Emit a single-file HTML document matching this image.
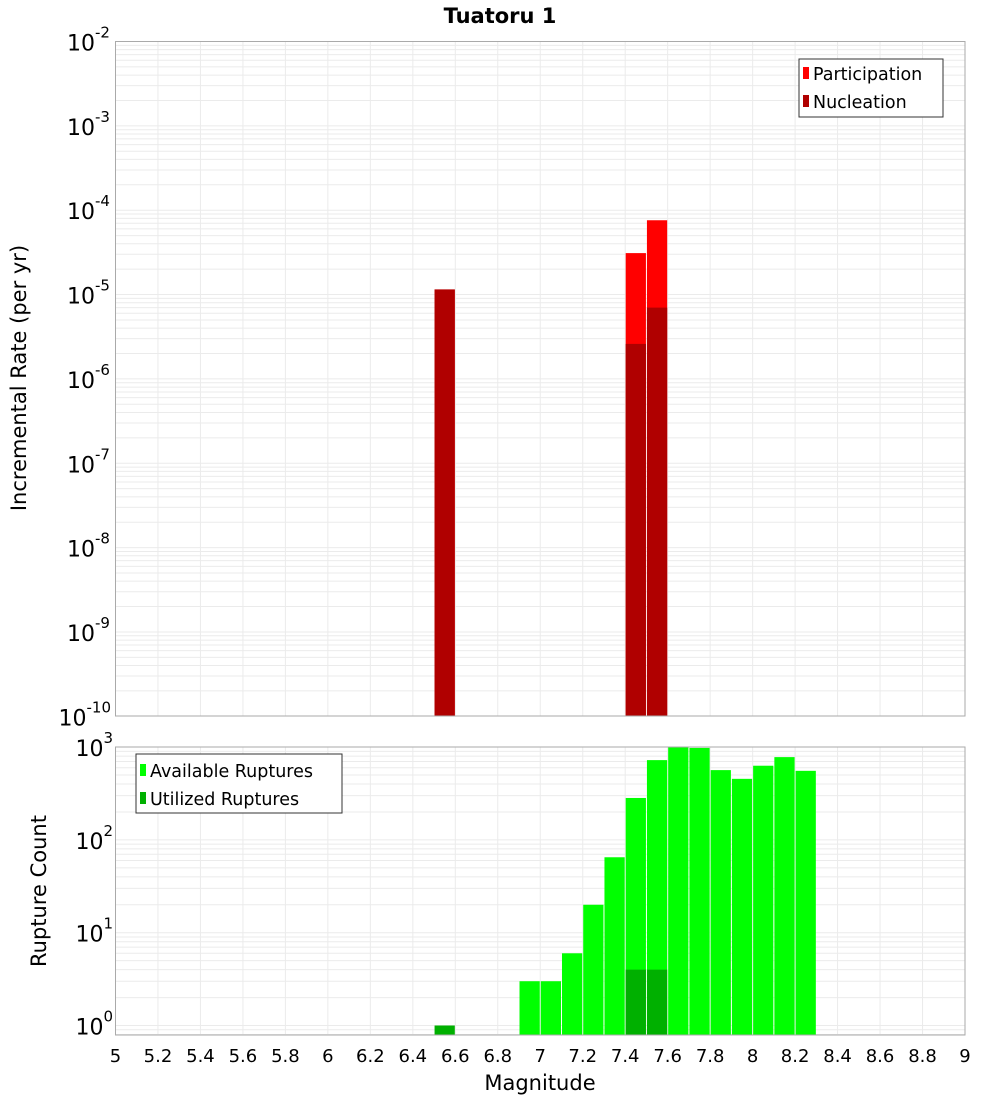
<!DOCTYPE html>
<html><head><meta charset="utf-8"><style>
body{margin:0;background:#fff;}
svg text{font-family:"DejaVu Sans","Liberation Sans",sans-serif;}
</style></head><body>
<svg id="chart" width="1000" height="1100" xmlns="http://www.w3.org/2000/svg">
<text x="500" y="23" text-anchor="middle" font-size="21" font-weight="bold">Tuatoru 1</text>
<g id="topPanel"></g><g id="botPanel"></g>
<text transform="translate(26,378) rotate(-90)" text-anchor="middle" font-size="21">Incremental Rate (per yr)</text>
<text transform="translate(46,891) rotate(-90)" text-anchor="middle" font-size="21">Rupture Count</text>
<text x="540" y="1090" text-anchor="middle" font-size="21">Magnitude</text>
<g id="legends">
<g>
<rect x="799" y="59" width="144" height="58" fill="#fff" stroke="#333"/>
<rect x="803" y="67" width="6" height="12" fill="#ff0000"/>
<text x="813" y="80" font-size="17.5">Participation</text>
<rect x="803" y="95" width="6" height="12" fill="#b00000"/>
<text x="813" y="108" font-size="17.5">Nucleation</text>
</g>
<g>
<rect x="136" y="754" width="206" height="59" fill="#fff" stroke="#333"/>
<rect x="140" y="764" width="6" height="12" fill="#00ff00"/>
<text x="150" y="777" font-size="17.5">Available Ruptures</text>
<rect x="140" y="792" width="6" height="12" fill="#00b000"/>
<text x="150" y="805" font-size="17.5">Utilized Ruptures</text>
</g>
</g>
</svg>
<script>
const mags = [6.5, 7.4, 7.5];
const participation = [1.15e-5, 3.1e-5, 7.6e-5];
const nucleation = [1.15e-5, 2.6e-6, 7.0e-6];
const availMags = [6.9,7.0,7.1,7.2,7.3,7.4,7.5,7.6,7.7,7.8,7.9,8.0,8.1,8.2];
const availCounts = [3,3,6,20,65,283,724,1000,980,565,455,630,780,555];
const utilMags = [6.5,7.4,7.5];
const utilCounts = [1,4,4];
const xTicks = [5,5.2,5.4,5.6,5.8,6,6.2,6.4,6.6,6.8,7,7.2,7.4,7.6,7.8,8,8.2,8.4,8.6,8.8,9];
const topExps = [-2,-3,-4,-5,-6,-7,-8,-9,-10];
const botExps = [0,1,2,3];

const NS="http://www.w3.org/2000/svg";
const X0=115.5,X1=965;
const xs=m=>X0+(m-5)/4*(X1-X0);
const yTop=v=>41.5+(-2-Math.log10(v))*84.35;
const yBot=v=>1025.5-Math.log10(v)*92.8;
function mk(p,t,a){const e=document.createElementNS(NS,t);for(const k in a)e.setAttribute(k,a[k]);p.appendChild(e);return e;}

function panel(g,yT,yB,yf,dmin,dmax,exps,name){
  mk(g,'rect',{x:X0,y:yT,width:X1-X0,height:yB-yT,fill:'#fff'});
  for(let d=dmin;d<dmax;d++)for(let k=1;k<10;k++){const yy=yf(k*Math.pow(10,d));if(yy>=yT&&yy<=yB){const l=mk(g,'line',{x1:X0,x2:X1,y1:yy,y2:yy,stroke:'#ebebeb'});
  
  }}
  xTicks.forEach(t=>{const l=mk(g,'line',{x1:xs(t),x2:xs(t),y1:yT,y2:yB,stroke:'#ebebeb'});
  
  });
  exps.forEach(e=>{const yy=yf(Math.pow(10,e));
    const off=String(e).length*8.5;
    const t=mk(g,'text',{x:112-off,y:yy+9,'font-size':22,'text-anchor':'end'});t.textContent='10';
    
    
    const s=mk(g,'text',{x:112-off,y:yy-4,'font-size':15});s.textContent=String(e);
    
    
  });
}
const topG=document.getElementById('topPanel'),botG=document.getElementById('botPanel');
panel(topG,41.5,716,yTop,-10,-2,topExps,'top');
panel(botG,747,1035,yBot,-1,3,botExps,'bottom');
function bar(g,m,v,yf,base,ymin,col,name){const x1=xs(m)+0.5,x2=xs(m+0.1)-0.5;const yy=Math.max(yf(v),ymin);
  const r=mk(g,'rect',{x:x1,y:yy,width:x2-x1,height:base-yy,fill:col});
  
  }
mags.forEach((m,i)=>bar(topG,m,participation[i],yTop,716,41.5,'#ff0000','participation-bar'));
mags.forEach((m,i)=>bar(topG,m,nucleation[i],yTop,716,41.5,'#b00000','nucleation-bar'));
availMags.forEach((m,i)=>bar(botG,m,availCounts[i],yBot,1035,747,'#00ff00','available-bar'));
utilMags.forEach((m,i)=>bar(botG,m,utilCounts[i],yBot,1035,747,'#00b000','utilized-bar'));
mk(topG,'rect',{x:X0,y:41.5,width:X1-X0,height:716-41.5,fill:'none',stroke:'#aaa'});
mk(botG,'rect',{x:X0,y:747,width:X1-X0,height:1035-747,fill:'none',stroke:'#aaa'});
xTicks.forEach(t=>{const e=mk(botG,'text',{x:xs(t),y:1062,'font-size':18,'text-anchor':'middle'});e.textContent=String(t);
  
  });
</script>
</body></html>
